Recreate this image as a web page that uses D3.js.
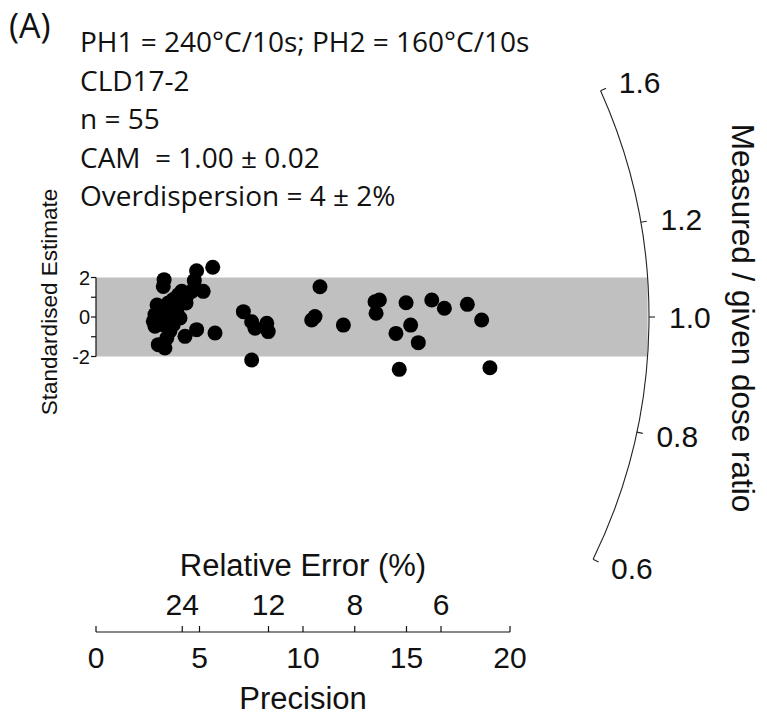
<!DOCTYPE html>
<html>
<head>
<meta charset="utf-8">
<script src="https://cdn.jsdelivr.net/npm/d3@7/dist/d3.min.js"></script>
<style>
  html, body { margin: 0; padding: 0; background: #fff; }
  svg { display: block; }
  .info { font-family: "Open Sans", sans-serif; }
  .ax { font-family: "Liberation Sans", Arial, sans-serif; }
</style>
</head>
<body>
<svg id="chart" width="767" height="716"></svg>
<script>
// ---- data ----
const precision = [
  5.64, 4.86, 4.75, 3.29, 3.25, 5.18, 4.14, 4.62, 3.98, 3.73,
  3.49, 3.09, 2.85, 2.77, 2.85, 3.33, 3.90, 4.06, 3.25, 3.73,
  5.75, 4.86, 4.30, 3.42, 3.01, 3.33, 3.09, 3.57, 2.95, 4.35,
  3.57, 4.35,
  7.12, 7.52, 7.68, 8.25, 8.32, 7.52, 10.82, 10.58, 10.42, 11.95,
  13.48, 13.69, 13.53, 14.98, 15.20, 14.49, 15.57, 16.22, 16.83, 17.94,
  18.63, 14.65, 19.03
];
const stdEstimate = [
  2.52, 2.34, 1.84, 1.89, 1.55, 1.30, 1.30, 1.30, 1.13, 0.88,
  0.71, 0.46, 0.12, -0.22, -0.47, 0.29, 0.29, -0.05, -0.39, -0.39,
  -0.81, -0.64, -0.98, -1.06, -1.40, -1.57, -0.05, 0.05, 0.61, 0.96,
  -0.71, 0.71,
  0.27, -0.24, -0.57, -0.32, -0.74, -2.18, 1.53, 0.02, -0.15, -0.41,
  0.77, 0.86, 0.19, 0.72, -0.41, -0.83, -1.30, 0.86, 0.44, 0.64,
  -0.15, -2.65, -2.57
];
const centralValue = 1.00;
const ratioTicks = [0.6, 0.8, 1.0, 1.2, 1.6];
const ratioTickLabels = ["0.6", "0.8", "1.0", "1.2", "1.6"];
const precisionTicks = [0, 5, 10, 15, 20];
const relErrTicks = [24, 12, 8, 6];
const yTicks = [-2, -1, 0, 1, 2];
const yTickLabels = ["-2", "", "0", "", "2"];
const infoLines = [
  "PH1 = 240°C/10s; PH2 = 160°C/10s",
  "CLD17-2",
  "n = 55",
  "CAM  = 1.00 ± 0.02",
  "Overdispersion = 4 ± 2%"
];

// ---- layout ----
const svg = d3.select("#chart");
const x = d3.scaleLinear().domain([0, 20]).range([96, 510]);
const y = d3.scaleLinear().domain([-2, 2]).range([356.5, 277.5]);
const ox = x(0), oy = y(0);
const R = 553;
const xUnit = x(1) - x(0), yUnit = y(0) - y(1);
const ang = r => Math.atan(Math.log(r / centralValue) * yUnit / xUnit); // up positive

// band
const hTop = oy - y(2);
const bandW = Math.sqrt(R * R - hTop * hTop);
svg.append("rect")
  .attr("x", ox).attr("y", y(2))
  .attr("width", bandW).attr("height", y(-2) - y(2))
  .attr("fill", "#c0c0c0");

// arc
const aTop = ang(d3.max(ratioTicks)), aBot = ang(d3.min(ratioTicks));
const p = d3.path();
p.moveTo(ox + R * Math.cos(-aTop), oy + R * Math.sin(-aTop));
p.arc(ox, oy, R, -aTop, -aBot, false);
svg.append("path").attr("d", p.toString())
  .attr("fill", "none").attr("stroke", "#222").attr("stroke-width", 1.1);

ratioTicks.forEach((r, i) => {
  const a = -ang(r);
  const c = Math.cos(a), s = Math.sin(a);
  svg.append("line")
    .attr("x1", ox + R * c).attr("y1", oy + R * s)
    .attr("x2", ox + (R + 6) * c).attr("y2", oy + (R + 6) * s)
    .attr("stroke", "#222").attr("stroke-width", 1.1);
  svg.append("text").attr("class", "ax")
    .attr("x", ox + (R + 20) * c).attr("y", oy + (R + 20) * s)
    .attr("dy", "0.36em")
    .attr("font-size", 30).attr("fill", "#111")
    .text(ratioTickLabels[i]);
});

// y axis
svg.append("line").attr("x1", ox).attr("x2", ox)
  .attr("y1", y(-2)).attr("y2", y(2)).attr("stroke", "#111").attr("stroke-width", 1.2);
yTicks.forEach((t, i) => {
  svg.append("line").attr("x1", ox - 5).attr("x2", ox)
    .attr("y1", y(t)).attr("y2", y(t)).attr("stroke", "#111").attr("stroke-width", 1.2);
  if (yTickLabels[i]) {
    svg.append("text").attr("class", "ax")
      .attr("x", ox - 6).attr("y", y(t)).attr("dy", "0.36em")
      .attr("text-anchor", "end").attr("font-size", 20).attr("fill", "#111")
      .text(yTickLabels[i]);
  }
});
svg.append("text").attr("class", "ax")
  .attr("transform", `translate(57,302) rotate(-90)`)
  .attr("text-anchor", "middle").attr("font-size", 22.5).attr("fill", "#111")
  .text("Standardised Estimate");

// x axis (precision & relative error)
const axY = 632;
svg.append("line").attr("x1", x(0)).attr("x2", x(20))
  .attr("y1", axY).attr("y2", axY).attr("stroke", "#111").attr("stroke-width", 1.2);
precisionTicks.forEach(t => {
  svg.append("line").attr("x1", x(t)).attr("x2", x(t))
    .attr("y1", axY - 6).attr("y2", axY).attr("stroke", "#111").attr("stroke-width", 1.2);
  svg.append("text").attr("class", "ax")
    .attr("x", x(t)).attr("y", 668).attr("text-anchor", "middle")
    .attr("font-size", 30).attr("fill", "#111").text(t);
});
relErrTicks.forEach(t => {
  const px = x(100 / t);
  svg.append("line").attr("x1", px).attr("x2", px)
    .attr("y1", axY - 6).attr("y2", axY).attr("stroke", "#111").attr("stroke-width", 1.2);
  svg.append("text").attr("class", "ax")
    .attr("x", px).attr("y", 615).attr("text-anchor", "middle")
    .attr("font-size", 30).attr("fill", "#111").text(t);
});
svg.append("text").attr("class", "ax")
  .attr("x", x(10)).attr("y", 576).attr("text-anchor", "middle")
  .attr("font-size", 31).attr("fill", "#111").text("Relative Error (%)");
svg.append("text").attr("class", "ax")
  .attr("x", x(10)).attr("y", 709).attr("text-anchor", "middle")
  .attr("font-size", 31).attr("fill", "#111").text("Precision");

// right title
svg.append("text").attr("class", "ax")
  .attr("transform", `translate(732,318) rotate(90)`)
  .attr("text-anchor", "middle").attr("font-size", 31.5).attr("fill", "#111")
  .text("Measured / given dose ratio");

// points
svg.append("g").selectAll("circle")
  .data(precision.map((d, i) => [d, stdEstimate[i]]))
  .join("circle")
  .attr("cx", d => x(d[0])).attr("cy", d => y(d[1]))
  .attr("r", 7.5).attr("fill", "#000");

// info text
svg.append("text").attr("class", "info")
  .attr("x", 9).attr("y", 38).attr("font-size", 34).attr("fill", "#111").text("(A)");
infoLines.forEach((t, i) => {
  svg.append("text").attr("class", "info")
    .attr("x", 80).attr("y", 52 + i * 38.5)
    .attr("font-size", 28).attr("fill", "#111")
    .style("white-space", "pre")
    .text(t);
});
</script>
</body>
</html>
